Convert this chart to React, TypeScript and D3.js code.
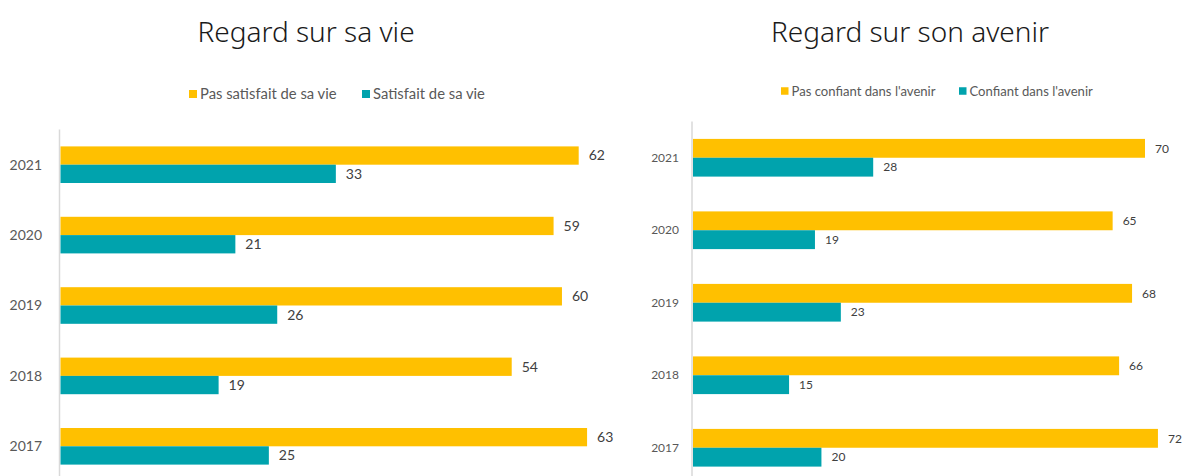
import React from "react";
import * as d3 from "d3";

const years = ["2021", "2020", "2019", "2018", "2017"];
const vieSeries = ["Pas satisfait de sa vie", "Satisfait de sa vie"];
const pasSatisfait = [62, 59, 60, 54, 63];
const satisfait = [33, 21, 26, 19, 25];
const avenirSeries = ["Pas confiant dans l'avenir", "Confiant dans l'avenir"];
const pasConfiant = [70, 65, 68, 66, 72];
const confiant = [28, 19, 23, 15, 20];
const colors = ["#FFC000", "#00A3AD"];

const W = 1184;
const H = 476;
const FONT = "Lato, 'Open Sans', sans-serif";

type PanelProps = {
  title: string;
  titleX: number;
  series: string[];
  values: number[][];
  x0: number;
  unit: number;
  yTop: number;
  yBottom: number;
  fontSize: number;
  legendFontSize: number;
  legendSq: number;
  legendY: number;
  legendX: number[];
  yearRight: number;
};

function Panel(p: PanelProps) {
  const x = d3.scaleLinear().domain([0, 1]).range([p.x0, p.x0 + p.unit]);
  const y = d3
    .scaleBand<string>()
    .domain(years)
    .range([p.yTop, p.yBottom])
    .paddingInner(0.48)
    .paddingOuter(0.24);
  const sub = d3
    .scaleBand<number>()
    .domain([0, 1])
    .range([0, y.bandwidth()]);
  return (
    <g>
      <text
        x={p.titleX}
        y={42}
        textAnchor="middle"
        fontFamily="'Noto Sans', sans-serif"
        fontWeight={300}
        fontSize={28}
        fill="#1a1a1a"
      >
        {p.title}
      </text>
      {p.series.map((s, i) => (
        <g key={s}>
          <rect
            x={p.legendX[i]}
            y={p.legendY - p.legendSq / 2}
            width={p.legendSq}
            height={p.legendSq}
            fill={colors[i]}
          />
          <text
            x={p.legendX[i] + p.legendSq + 3}
            y={p.legendY}
            dy="0.35em"
            fontFamily={FONT}
            fontSize={p.legendFontSize}
            fill="#595959"
          >
            {s}
          </text>
        </g>
      ))}
      <line
        x1={p.x0}
        x2={p.x0}
        y1={p.yTop}
        y2={H}
        stroke="#d9d9d9"
        strokeWidth={1.5}
      />
      {years.map((yr, j) => (
        <g key={yr}>
          <text
            x={p.yearRight}
            y={(y(yr) as number) + y.bandwidth() / 2}
            dy="0.35em"
            textAnchor="end"
            fontFamily={FONT}
            fontSize={p.fontSize}
            fill="#595959"
          >
            {yr}
          </text>
          {p.values.map((vals, i) => {
            const by = (y(yr) as number) + (sub(i) as number);
            return (
              <g key={i}>
                <rect
                  x={p.x0 + 1}
                  y={by}
                  width={x(vals[j]) - p.x0 - 1}
                  height={sub.bandwidth()}
                  fill={colors[i]}
                />
                <text
                  x={x(vals[j]) + 10}
                  y={by + sub.bandwidth() / 2}
                  dy="0.35em"
                  fontFamily={FONT}
                  fontSize={p.fontSize}
                  fill="#404040"
                >
                  {vals[j]}
                </text>
              </g>
            );
          })}
        </g>
      ))}
    </g>
  );
}

export default function App() {
  return (
    <svg
      width={W}
      height={H}
      style={{ position: "absolute", left: 0, top: 0, background: "#fff" }}
    >
      <rect width={W} height={H} fill="#fff" />
      <Panel
        title="Regard sur sa vie"
        titleX={306}
        series={vieSeries}
        values={[pasSatisfait, satisfait]}
        x0={59.5}
        unit={(578.7 - 59.5) / 62}
        yTop={129.5}
        yBottom={481.5}
        fontSize={14}
        legendFontSize={14.8}
        legendSq={8}
        legendY={94}
        legendX={[189, 362]}
        yearRight={42}
      />
      <Panel
        title="Regard sur son avenir"
        titleX={910}
        series={avenirSeries}
        values={[pasConfiant, confiant]}
        x0={692}
        unit={(1145 - 692) / 70}
        yTop={121.5}
        yBottom={484}
        fontSize={12}
        legendFontSize={13.1}
        legendSq={7.5}
        legendY={91}
        legendX={[781, 959]}
        yearRight={679}
      />
    </svg>
  );
}
